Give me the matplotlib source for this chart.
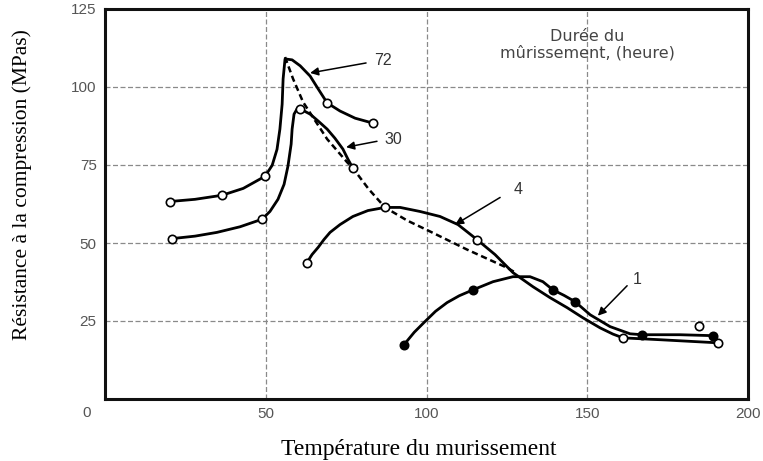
import matplotlib
matplotlib.use("Agg")
import matplotlib.pyplot as plt

# curve 72 h (open circles) - line path, markers separately
h72_x = [20.2, 28.0, 36.4, 43.0, 49.8, 52.0, 53.5, 54.4, 55.1, 55.4, 56.0, 58.2, 60.7,
         63.8, 66.3, 69.1, 73.1, 77.8, 83.4]
h72_y = [63.3, 64.0, 65.3, 67.5, 71.4, 74.9, 80.0, 86.5, 94.5, 102.6, 109.0, 108.7, 106.8,
         103.5, 99.4, 94.9, 92.3, 90.0, 88.4]
h72_mx = [20.2, 36.4, 49.8, 69.1, 83.4]
h72_my = [63.3, 65.3, 71.4, 94.9, 88.4]

# curve 30 h
h30_x = [20.8, 28.0, 34.8, 42.0, 48.8, 51.3, 53.8, 55.7, 56.9, 57.9, 58.2, 58.8, 59.7,
         60.7, 63.8, 66.3, 69.1, 71.5, 74.0, 75.6, 77.1]
h30_y = [51.4, 52.2, 53.4, 55.2, 57.6, 60.1, 64.0, 68.8, 74.6, 81.7, 86.5, 91.3, 92.9,
         93.0, 91.3, 89.1, 86.5, 83.6, 80.1, 76.8, 74.0]
h30_mx = [20.8, 48.8, 60.7, 77.1]
h30_my = [51.4, 57.6, 93.0, 74.0]

# curve 4 h
h4_x = [62.8, 64.4, 66.3, 68.1, 70.0, 73.1, 77.1, 81.8, 87.1, 91.8, 98.0, 104.2, 109.8,
        115.7, 121.3, 126.9, 133.1, 138.4, 143.7, 148.7, 154.0, 158.0, 161.1, 172.6, 190.7]
h4_y = [43.7, 46.3, 48.6, 51.1, 53.4, 55.9, 58.5, 60.4, 61.4, 61.4, 60.1, 58.5, 55.9,
        51.1, 46.3, 40.5, 36.0, 32.5, 29.3, 26.0, 22.8, 20.8, 19.6, 19.0, 18.0]
h4_mx = [62.8, 87.1, 115.7, 161.1, 190.7]
h4_my = [43.7, 61.4, 51.1, 19.6, 18.0]

# curve 1 h (filled circles)
h1_x = [93.0, 96.2, 99.5, 102.8, 106.4, 110.2, 114.5, 120.7, 126.9, 132.2, 136.2, 139.3,
        142.8, 146.2, 150.9, 157.1, 163.3, 167.0, 178.8, 189.1]
h1_y = [17.4, 21.4, 24.8, 28.1, 30.9, 33.1, 35.0, 37.6, 39.2, 39.2, 37.6, 35.0,
        33.2, 31.2, 27.0, 23.2, 20.9, 20.6, 20.6, 20.3]
h1_mx = [93.0, 114.5, 139.3, 146.2, 167.0, 189.1]
h1_my = [17.4, 35.0, 35.0, 31.2, 20.6, 20.3]

# envelope (dashed)
env_x = [56.0, 58.5, 61.6, 65.5, 69.1, 75.3, 77.1, 82.0, 87.1, 94.0, 101.1, 112.6, 125.0, 127.5]
env_y = [109.6, 102.6, 95.2, 89.0, 83.3, 75.9, 74.0, 67.3, 61.4, 57.2, 53.7, 47.9, 42.1, 40.6]

lone_x, lone_y = [184.8], [23.5]

labels = ["72", "30", "4", "1"]
label_xy = [(86.5, 108.4), (89.6, 83.3), (128.5, 67.2), (165.5, 38.3)]
arrow_tail = [(81.2, 107.7), (84.6, 82.6), (122.9, 64.6), (162.4, 36.3)]
arrow_tip = [(63.8, 104.5), (75.0, 80.7), (108.9, 55.9), (153.3, 26.7)]

xticks = [50, 100, 150, 200]
yticks = [25, 50, 75, 100, 125]

fig = plt.figure(figsize=(7.63, 4.61), dpi=100)
ax = fig.add_axes([105 / 763, 1 - 399 / 461, 643 / 763, 390 / 461])

ax.set_xlim(0, 200)
ax.set_ylim(0, 125)
ax.set_xticks(xticks)
ax.set_yticks(yticks)
ax.grid(True, color="#8a8a8a", lw=0.9, ls=(0, (4, 2)))
ax.set_axisbelow(True)
ax.tick_params(length=0, labelsize=11, labelcolor="#555555", pad=6)
for lab in ax.get_xticklabels() + ax.get_yticklabels():
    lab.set_family("Liberation Sans")
for s in ax.spines.values():
    s.set_linewidth(2.2)
    s.set_color("#111111")
ax.text(-0.028, -0.036, "0", transform=ax.transAxes, ha="center", va="center",
        fontsize=11, color="#555555", family="Liberation Sans")

lw = 2.0
ax.plot(env_x, env_y, color="k", lw=1.8, ls=(0, (2.5, 1.5)), zorder=3)
for xs, ys in [(h72_x, h72_y), (h30_x, h30_y), (h4_x, h4_y), (h1_x, h1_y)]:
    ax.plot(xs, ys, color="k", lw=lw, zorder=4, solid_joinstyle="round")

mk = dict(ls="none", marker="o", ms=6, mew=1.2, mec="k", zorder=5)
ax.plot(h72_mx, h72_my, mfc="white", **mk)
ax.plot(h30_mx, h30_my, mfc="white", **mk)
ax.plot(h4_mx, h4_my, mfc="white", **mk)
ax.plot(h1_mx, h1_my, mfc="black", **mk)
ax.plot(lone_x, lone_y, mfc="white", **mk)

for lab, xy, tail, tip in zip(labels, label_xy, arrow_tail, arrow_tip):
    ax.text(xy[0], xy[1], lab, ha="center", va="center", fontsize=11.5,
            color="#333333", family="Liberation Sans")
    ax.annotate("", xy=tip, xytext=tail,
                arrowprops=dict(arrowstyle="-|>", color="k", lw=1.1,
                                mutation_scale=12, shrinkA=0, shrinkB=0))

ax.text(150, 113.5, "Durée du\nmûrissement, (heure)", ha="center", va="center",
        fontsize=11.5, color="#444444", family="DejaVu Sans", linespacing=1.1)

fig.text(419 / 763, 1 - 449 / 461, "Température du murissement", ha="center", va="center",
         fontsize=17, family="Liberation Serif")
fig.text(22 / 763, 1 - 185 / 461, "Résistance à la compression (MPas)", ha="center",
         va="center", rotation=90, fontsize=15.5, family="Liberation Serif")

fig.savefig("out.png", dpi=100)
